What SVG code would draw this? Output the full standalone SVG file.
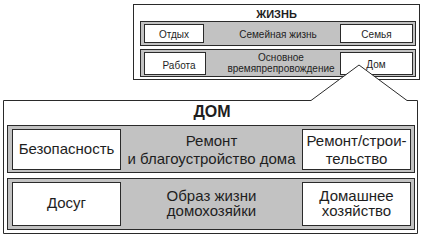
<svg xmlns="http://www.w3.org/2000/svg" width="422" height="237" viewBox="0 0 422 237">
<style>
.frame{fill:#fff;stroke:#2a2a2a;stroke-width:1}
.band{fill:#c2c2c2;stroke:#2a2a2a;stroke-width:1}
.box{fill:#fff;stroke:#2a2a2a;stroke-width:1}
text{font-family:"Liberation Sans",Arial,sans-serif;fill:#1e1e1e;text-anchor:middle}
.s{font-size:10px}
.l{font-size:15px}
.tb{font-size:11px;font-weight:bold}
.lb{font-size:16px;font-weight:bold}
</style>
<g id="life">
<rect class="frame" x="133.5" y="4.5" width="286" height="75"/>
<text class="tb" x="276.5" y="17.5">ЖИЗНЬ</text>
</g>
<g id="row-family">
<rect class="band" x="140.5" y="21.5" width="275" height="24"/>
<text class="s" x="278" y="38">Семейная жизнь</text>
</g>
<g id="otdyh">
<rect class="box" x="144.5" y="24.5" width="59" height="18"/>
<text class="s" x="174" y="38">Отдых</text>
</g>
<g id="semya">
<rect class="box" x="340.5" y="24.5" width="72" height="18"/>
<text class="s" x="376.5" y="38">Семья</text>
</g>
<g id="row-time">
<rect class="band" x="140.5" y="49.5" width="275" height="27"/>
<text class="s" x="281" y="60.5">Основное</text>
<text class="s" x="281" y="72">времяпрепровождение</text>
</g>
<g id="rabota">
<rect class="box" x="144.5" y="52.5" width="61" height="22"/>
<text class="s" x="179" y="69">Работа</text>
</g>
<g id="dom-small">
<rect class="box" x="340.5" y="52.5" width="72" height="22"/>
<text class="s" x="376" y="68">Дом</text>
</g>
<g id="connectors">
<path class="frame" d="M3.5,100.5 L311,100.5 L359,65 L407,100.5 L417.5,100.5 L417.5,233.5 L3.5,233.5 Z"/>
</g>
<g id="dom">
<text class="lb" x="212" y="117">ДОМ</text>
</g>
<g id="row-repair">
<rect class="band" x="7.5" y="125.5" width="407" height="47"/>
<text class="l" x="211.5" y="146">Ремонт</text>
<text class="l" x="211.5" y="163.5">и благоустройство дома</text>
</g>
<g id="bezopasnost">
<rect class="box" x="12.5" y="129.5" width="108" height="40"/>
<text class="l" x="66.5" y="154">Безопасность</text>
</g>
<g id="stroitelstvo">
<rect class="box" x="302.5" y="129.5" width="108" height="40"/>
<text class="l" x="356.5" y="146">Ремонт/строи-</text>
<text class="l" x="356.5" y="163.5">тельство</text>
</g>
<g id="row-lifestyle">
<rect class="band" x="7.5" y="178.5" width="407" height="51"/>
<text class="l" x="211.5" y="200.5">Образ жизни</text>
<text class="l" x="211.5" y="216">домохозяйки</text>
</g>
<g id="dosug">
<rect class="box" x="12.5" y="182.5" width="108" height="43"/>
<text class="l" x="66.5" y="208">Досуг</text>
</g>
<g id="hozyaistvo">
<rect class="box" x="302.5" y="182.5" width="108" height="43"/>
<text class="l" x="356.5" y="200.5">Домашнее</text>
<text class="l" x="356.5" y="216">хозяйство</text>
</g>
</svg>
